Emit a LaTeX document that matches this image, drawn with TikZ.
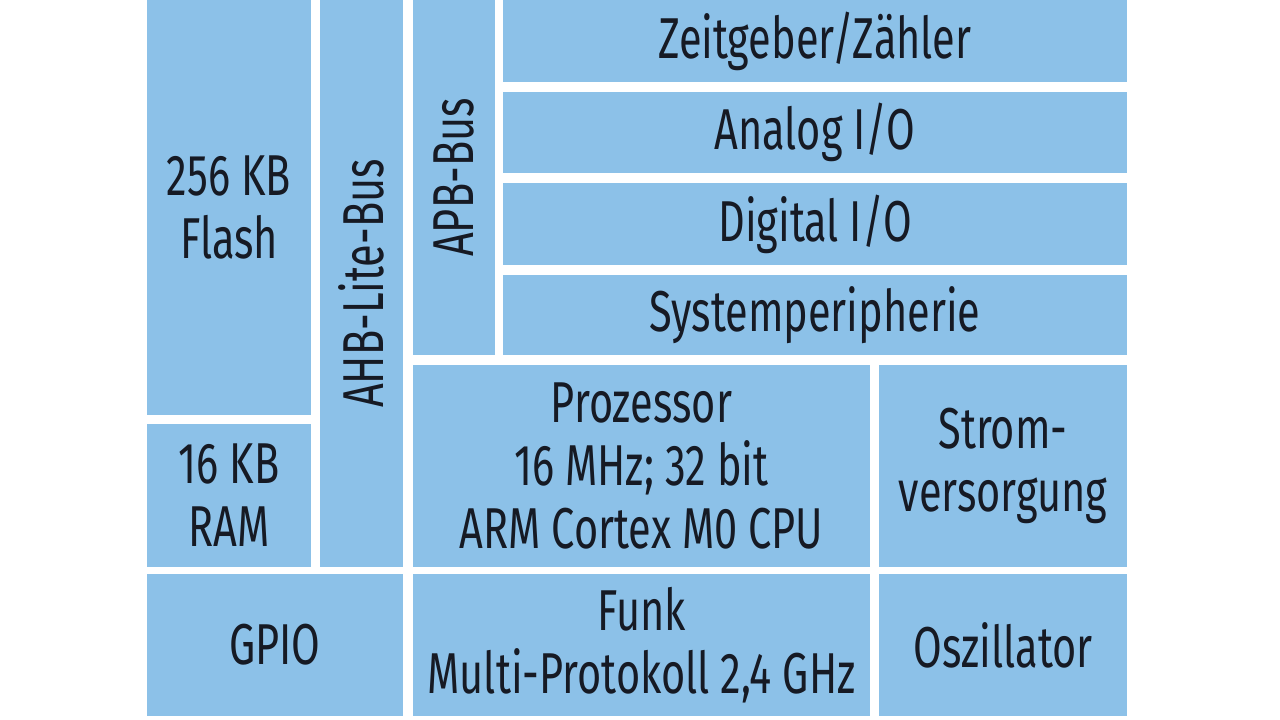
\documentclass[tikz,border=0pt]{standalone}
\usepackage{fontspec}
\setmainfont[FakeStretch=0.72]{Fira Sans}
\usetikzlibrary{positioning}
\definecolor{BlockBlue}{RGB}{140, 193, 232}
\definecolor{InkDark}{RGB}{22, 26, 36}

\begin{document}
\begin{tikzpicture}[
        blk/.style={fill=BlockBlue, draw=none, inner sep=0pt, align=center, text=InkDark,
            font=\fontsize{41}{45}\selectfont},
        vtxt/.style={rotate=90, text=InkDark, font=\fontsize{41}{45}\selectfont}
    ]
        \useasboundingbox (0,0) rectangle (32,17.975);
        % memory column
        \node[blk, minimum width=4.1cm, minimum height=10.375cm] (flash) at (5.725,12.7875) {256 KB\\Flash};
        \node[blk, minimum width=4.1cm, minimum height=3.575cm] (ram) at (5.725,5.5875) {16 KB\\RAM};
        % buses
        \node[blk, minimum width=2.075cm, minimum height=14.175cm] (ahb) at (9.0375,10.8875) {};
        \node[vtxt] (ahbtxt) at (ahb.center) {AHB-Lite-Bus};
        \node[blk, minimum width=2.05cm, minimum height=8.875cm] (apb) at (11.35,13.5375) {};
        \node[vtxt] (apbtxt) at (apb.center) {APB-Bus};
        % peripherals
        \node[blk, minimum width=15.6cm, minimum height=2.05cm] (timer) at (20.375,16.95) {Zeitgeber/Zähler};
        \node[blk, minimum width=15.6cm, minimum height=2.025cm] (analog) at (20.375,14.6625) {Analog I/O};
        \node[blk, minimum width=15.6cm, minimum height=2.05cm] (digital) at (20.375,12.375) {Digital I/O};
        \node[blk, minimum width=15.6cm, minimum height=2.0cm] (sysper) at (20.375,10.1) {Systemperipherie};
        % core
        \node[blk, minimum width=11.425cm, minimum height=5.05cm] (cpu) at (16.0375,6.325) {Prozessor\\16 MHz; 32 bit\\ARM Cortex M0 CPU};
        \node[blk, minimum width=6.2cm, minimum height=5.05cm] (power) at (25.075,6.325) {Strom-\\versorgung};
        % bottom row
        \node[blk, minimum width=6.4cm, minimum height=3.55cm] (gpio) at (6.875,1.85) {GPIO};
        \node[blk, minimum width=11.425cm, minimum height=3.55cm] (radio) at (16.0375,1.85) {Funk\\Multi-Protokoll 2,4 GHz};
        \node[blk, minimum width=6.2cm, minimum height=3.55cm] (osc) at (25.075,1.85) {Oszillator};
    \end{tikzpicture}
\end{document}
